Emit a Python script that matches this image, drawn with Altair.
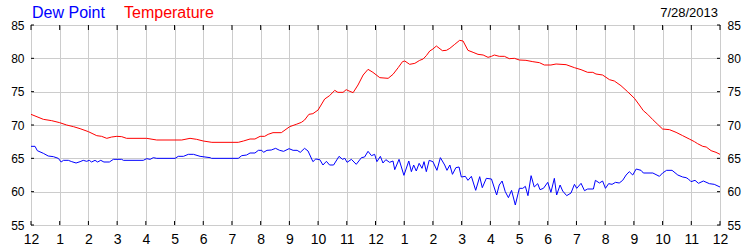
import altair as alt
import pandas as pd

# ---- data (hours after midnight, degrees F) ----
temp_hours = [0.00, 0.43, 0.72, 1.00, 1.24, 1.48, 1.71, 2.00, 2.29, 2.46, 2.64, 2.81, 2.99, 3.16, 3.33,
              4.03, 4.38, 5.25, 5.54, 5.77, 6.00, 6.30, 7.22, 7.40, 7.63, 7.80, 7.98,
              8.14, 8.26, 8.43, 8.72, 9.01, 9.24, 9.42, 9.53, 9.68, 9.82, 10.00, 10.23, 10.40, 10.58,
              10.69, 10.87, 10.98, 11.08, 11.22, 11.39, 11.57, 11.74, 11.91, 12.15, 12.44, 12.61,
              12.79, 12.94, 13.02, 13.19, 13.37, 13.54, 13.66, 13.77, 13.89, 14.00, 14.12, 14.33,
              14.47, 14.59, 14.76, 14.93, 15.05, 15.22, 15.40, 15.57, 15.75, 15.92,
              16.04, 16.14, 16.31, 16.49, 16.66, 16.84, 17.01, 17.24, 17.48, 17.71, 17.88, 18.11,
              18.29, 18.64, 18.93, 19.16, 19.39, 19.57, 19.68, 19.91, 20.15, 20.32, 20.55, 20.78,
              21.02, 21.19, 21.33, 21.48, 21.66, 21.83, 22.00, 22.24, 22.47, 22.70, 22.93, 23.11,
              23.22, 23.40, 23.52, 23.69, 23.86, 24.00]
temp_values = [71.6, 70.85, 70.65, 70.35, 70.0, 69.75, 69.45, 69.0, 68.4, 68.3, 68.0, 68.2, 68.3, 68.25, 68.0,
               68.0, 67.75, 67.75, 68.0, 67.85, 67.6, 67.4, 67.4, 67.6, 67.9, 67.9, 68.3,
               68.3, 68.6, 68.85, 68.85, 69.75, 70.1, 70.4, 70.75, 71.6, 71.7, 72.25, 73.9, 74.4, 75.2,
               74.9, 74.9, 75.3, 75.1, 74.85, 76.0, 77.5, 78.35, 77.9, 77.1, 77.0, 77.6,
               78.6, 79.5, 79.6, 79.1, 79.25, 79.7, 79.9, 80.4, 81.1, 81.4, 81.85, 81.15,
               81.2, 81.5, 82.1, 82.7, 82.6, 81.2, 80.9, 80.6, 80.5, 80.15,
               80.3, 80.5, 80.3, 80.3, 79.95, 80.0, 79.75, 79.7, 79.5, 79.35, 79.0, 79.0,
               79.15, 79.05, 78.6, 78.3, 77.9, 77.9, 77.65, 77.5, 76.8, 76.6, 75.9, 75.0,
               74.0, 73.0, 72.15, 71.6, 70.8, 70.1, 69.4, 69.3, 68.9, 68.4, 67.9, 67.5,
               67.2, 66.8, 66.7, 66.15, 65.9, 65.6]

dew_hours = [0.00, 0.14, 0.22, 0.43, 0.60, 0.78, 0.95, 1.05, 1.13, 1.30, 1.42, 1.57, 1.71, 1.82, 1.94,
             2.03, 2.11, 2.23, 2.32, 2.43, 2.54, 2.73, 2.87, 3.16, 3.22, 3.91, 4.03, 4.15, 4.26, 4.38,
             5.02, 5.13, 5.31, 5.48, 5.66, 5.89, 6.24, 6.29, 7.22, 7.34, 7.51, 7.63, 7.80, 7.92, 8.04,
             8.10, 8.22, 8.37, 8.52, 8.66, 8.80, 8.99, 9.13, 9.27, 9.38, 9.53, 9.65, 9.82, 9.92,
             10.06, 10.17, 10.29, 10.40, 10.54, 10.73, 10.85, 10.93, 11.01, 11.16, 11.33, 11.51,
             11.62, 11.74, 11.86, 11.97, 12.05, 12.17, 12.26, 12.36, 12.49, 12.61, 12.67, 12.82,
             12.99, 13.16, 13.25, 13.33, 13.42, 13.52, 13.62, 13.69, 13.77, 13.87, 14.00, 14.14,
             14.26, 14.41, 14.49, 14.59, 14.68, 14.80, 14.91, 14.99, 15.13, 15.22, 15.34, 15.49,
             15.63, 15.72, 15.86, 16.04, 16.22, 16.31, 16.41, 16.52, 16.63, 16.74, 16.87, 17.01,
             17.13, 17.22, 17.31, 17.42, 17.53, 17.65, 17.73, 17.85, 18.00, 18.11, 18.23, 18.31,
             18.43, 18.52, 18.66, 18.81, 18.93, 19.01, 19.16, 19.28, 19.39, 19.59, 19.66, 19.80,
             19.91, 20.01, 20.12, 20.24, 20.36, 20.49, 20.61, 20.73, 20.84, 20.96, 21.08, 21.25,
             21.33, 21.66, 21.89, 22.00, 22.14, 22.33, 22.53, 22.70, 22.82, 22.90, 22.99, 23.13,
             23.25, 23.42, 23.63, 23.80, 24.00]
dew_values = [66.8, 66.8, 66.15, 65.75, 65.35, 65.25, 65.0, 64.45, 64.7, 64.7, 64.5, 64.3, 64.5, 64.7, 64.55,
              64.7, 64.45, 64.7, 64.45, 64.7, 64.45, 64.45, 64.85, 64.85, 64.7, 64.7, 64.95, 64.85, 65.1, 65.0,
              65.0, 65.3, 65.3, 65.6, 65.6, 65.3, 65.1, 65.0, 65.0, 65.4, 65.5, 65.8, 65.8, 66.2, 66.2,
              65.9, 66.2, 66.25, 66.5, 66.2, 66.05, 66.45, 66.2, 66.2, 65.9, 66.5, 66.1, 64.5, 64.9,
              64.8, 64.0, 64.55, 64.0, 64.0, 65.3, 64.85, 65.0, 64.4, 64.85, 64.1, 65.1,
              65.2, 66.05, 65.4, 65.6, 64.5, 65.3, 64.3, 64.8, 64.4, 64.6, 63.3, 64.85,
              62.45, 64.6, 63.0, 64.0, 63.1, 64.25, 63.5, 64.5, 63.0, 64.7, 64.5, 63.2,
              65.1, 64.0, 63.2, 64.0, 62.6, 63.6, 63.7, 62.2, 62.3, 61.7, 62.3, 60.2,
              62.25, 60.6, 62.0, 61.9, 59.5, 61.0, 61.6, 60.0, 59.1, 60.2, 58.0, 60.5,
              60.5, 60.8, 59.4, 62.4, 60.7, 61.2, 60.3, 60.5, 61.4, 59.9, 62.0, 59.5,
              61.0, 60.1, 59.4, 59.8, 61.1, 60.5, 61.25, 60.15, 60.4, 60.4, 61.7, 61.3,
              61.6, 60.5, 61.2, 61.1, 61.4, 61.3, 61.7, 62.5, 63.0, 62.5, 63.4, 63.2,
              62.8, 62.8, 62.3, 62.8, 63.2, 63.2, 62.5, 62.2, 62.1, 61.9, 61.5, 61.7,
              61.25, 61.6, 61.2, 61.1, 60.7]

hour_ticks = list(range(25))
deg_ticks = [55, 60, 65, 70, 75, 80, 85]
series_names = ["Dew Point", "Temperature"]
series_colors = ["#0000ff", "#ff0000"]
date_label = "7/28/2013"

W, H = 689, 200
FONT = "Liberation Sans"

temp_df = pd.DataFrame({"hour": temp_hours, "value": temp_values})
dew_df = pd.DataFrame({"hour": dew_hours, "value": dew_values})
hours_df = pd.DataFrame({"hour": hour_ticks})
degs_df = pd.DataFrame({"deg": deg_ticks})
one = pd.DataFrame({"k": [0]})

xs = alt.Scale(domain=[0, 24], nice=False, zero=False)
ys = alt.Scale(domain=[55, 85], nice=False, zero=False)

x_axis = alt.Axis(values=hour_ticks, grid=True, gridColor="#cccccc", tickSize=0, orient="bottom",
                  labelExpr="datum.value % 12 == 0 ? '12' : '' + (datum.value % 12)",
                  labelFont=FONT, labelFontSize=14, labelColor="#000000", labelPadding=7,
                  labelFlush=False, labelOverlap=False, domain=False, title=None)
y_left = alt.Axis(values=deg_ticks, grid=True, gridColor="#cccccc", tickSize=0, orient="left",
                  labelFont=FONT, labelFontSize=12, labelColor="#000000", labelPadding=7,
                  labelFlush=False, domain=False, title=None)
y_right = alt.Axis(values=deg_ticks, grid=False, tickSize=0, orient="right",
                   labelFont=FONT, labelFontSize=12, labelColor="#000000", labelPadding=7,
                   labelFlush=False, domain=False, title=None)

X = alt.X("hour:Q", scale=xs, axis=x_axis)

temp_line = alt.Chart(temp_df).mark_line(color=series_colors[1], strokeWidth=1, clip=True).encode(
    x=X, y=alt.Y("value:Q", scale=ys, axis=y_left),
)
dew_line = alt.Chart(dew_df).mark_line(color=series_colors[0], strokeWidth=1, clip=True).encode(
    x=X, y=alt.Y("value:Q", scale=ys, axis=y_right),
)

tick_bottom = alt.Chart(hours_df).mark_rule(color="#000000", strokeWidth=1).encode(
    x=X, y=alt.value(H), y2=alt.value(H - 4))
tick_top = alt.Chart(hours_df).mark_rule(color="#000000", strokeWidth=1).encode(
    x=X, y=alt.value(0), y2=alt.value(5))
tick_left = alt.Chart(degs_df).mark_rule(color="#000000", strokeWidth=1).encode(
    y=alt.Y("deg:Q", scale=ys, axis=None), x=alt.value(0), x2=alt.value(3))
tick_right = alt.Chart(degs_df).mark_rule(color="#000000", strokeWidth=1).encode(
    y=alt.Y("deg:Q", scale=ys, axis=None), x=alt.value(W), x2=alt.value(W - 3))

t1 = alt.Chart(one).mark_text(text=series_names[0], font=FONT, fontSize=16, align="left",
                              baseline="alphabetic", color=series_colors[0]).encode(
    x=alt.value(1), y=alt.value(-7))
t2 = alt.Chart(one).mark_text(text=series_names[1], font=FONT, fontSize=16, align="left",
                              baseline="alphabetic", color=series_colors[1]).encode(
    x=alt.value(93), y=alt.value(-7))
t3 = alt.Chart(one).mark_text(text=date_label, font=FONT, fontSize=13, align="right",
                              baseline="alphabetic", color="#000000").encode(
    x=alt.value(687), y=alt.value(-8))

chart = alt.layer(temp_line, dew_line, tick_bottom, tick_top, tick_left, tick_right, t1, t2, t3).resolve_axis(
    y="independent"
).properties(
    width=W, height=H,
    autosize=alt.AutoSizeParams(type="none"),
    padding={"left": 31, "top": 25, "right": 30, "bottom": 25},
    background="#ffffff",
).configure_view(stroke="#000000", strokeWidth=1)

chart.save("out.html", embed_options={"renderer": "svg", "actions": False})
